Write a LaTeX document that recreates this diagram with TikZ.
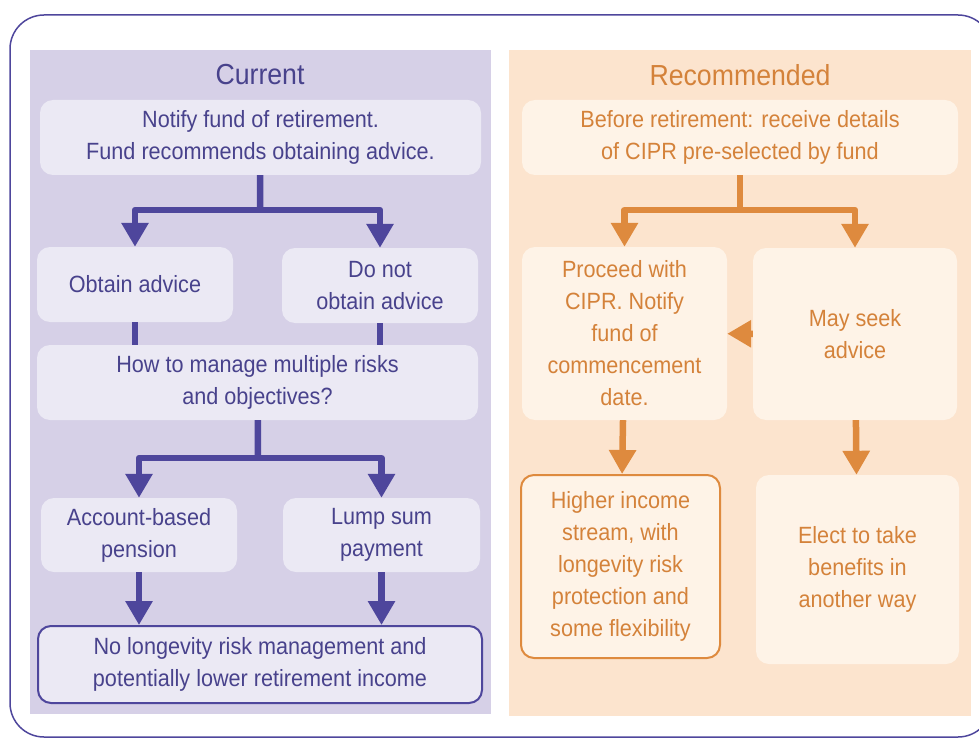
\documentclass[tikz,border=0pt]{standalone}
\usepackage{fontspec}
\setmainfont{Liberation Sans}[FakeStretch=0.92]
\usetikzlibrary{arrows.meta,positioning}
\definecolor{purpline}{RGB}{78,70,156}
\definecolor{purptext}{RGB}{72,66,140}
\definecolor{purppanel}{RGB}{214,208,231}
\definecolor{purpbox}{RGB}{235,233,244}
\definecolor{orgline}{RGB}{222,138,62}
\definecolor{orgtext}{RGB}{212,130,58}
\definecolor{orgpanel}{RGB}{252,228,206}
\definecolor{orgbox}{RGB}{254,243,231}
\begin{document}
\begin{tikzpicture}[x=1pt,y=-1pt,line join=round,>={Triangle[width=26pt,length=24pt]}]
\tikzset{box/.style={rectangle,rounded corners=13pt,align=center,inner sep=0pt,
    font=\fontsize{23.5}{32}\selectfont},
  pbox/.style={box,fill=purpbox,text=purptext},
  obox/.style={box,fill=orgbox,text=orgtext},
  title/.style={font=\fontsize{29}{30}\selectfont},
  pline/.style={draw=purpline,line width=6.5pt},
  oline/.style={draw=orgline,line width=6.5pt}}
\useasboundingbox (0,0) rectangle (979,738);
% frame and panels
\draw[purpline,line width=1.5pt,rounded corners=34pt] (10,15) rectangle (992,737);
\fill[purppanel] (30,50) rectangle (491,714);
\fill[orgpanel] (509,50) rectangle (971,716);

% current
\node[title,text=purptext] (cur) at (260,75) {Current};
\node[pbox,minimum width=441pt,minimum height=75pt] (ptop) at (260.5,137.5)
  {Notify fund of retirement.\\Fund recommends obtaining advice.};
\node[pbox,minimum width=196pt,minimum height=75pt] (obt) at (135,284.5) {Obtain advice};
\node[pbox,minimum width=196pt,minimum height=75pt] (dont) at (380,285.5) {Do not\\obtain advice};
\node[pbox,minimum width=441pt,minimum height=75pt] (how) at (257.5,382.5)
  {How to manage multiple risks\\and objectives?};
\node[pbox,minimum width=196pt,minimum height=74pt] (acct) at (139,535) {Account-based\\pension};
\node[pbox,minimum width=197pt,minimum height=74pt] (lump) at (381.5,535) {Lump sum\\payment};
\node[pbox,draw=purpline,line width=2pt,minimum width=444pt,minimum height=77pt] (nolong) at (260,664.5)
  {No longevity risk management and\\potentially lower retirement income};

\coordinate (fork1) at (260,210);
\coordinate (fork2) at (258,458);
\draw[pline] (ptop) -- (fork1);
\draw[pline,->] (fork1) -| (obt);
\draw[pline,->] (fork1) -| (dont);
\draw[pline] (obt) -- (obt |- how.north);
\draw[pline] (dont) -- (dont |- how.north);
\draw[pline] (how) -- (fork2);
\draw[pline,->] (fork2) -| (acct);
\draw[pline,->] (fork2) -| (lump);
\draw[pline,->] (acct) -- (acct |- nolong.north);
\draw[pline,->] (lump) -- (lump |- nolong.north);

% recommended
\node[title,text=orgtext] (rec) at (740,75) {Recommended};
\node[obox,minimum width=436pt,minimum height=75pt] (otop) at (740,137.5)
  {Before retirement: receive details\\of CIPR pre-selected by fund};
\node[obox,minimum width=205pt,minimum height=173pt] (proc) at (624.5,333.5)
  {Proceed with\\CIPR. Notify\\fund of\\commencement\\date.};
\node[obox,minimum width=204pt,minimum height=172pt] (seek) at (855,334) {May seek\\advice};
\node[obox,draw=orgline,line width=2pt,minimum width=199pt,minimum height=183pt] (high) at (620.5,566.5)
  {Higher income\\stream, with\\longevity risk\\protection and\\some flexibility};
\node[obox,minimum width=203pt,minimum height=189pt] (elect) at (857.5,569.5)
  {Elect to take\\benefits in\\another way};

\coordinate (fork3) at (740,210);
\draw[oline] (otop) -- (fork3);
\draw[oline,->] (fork3) -| (proc);
\draw[oline,->] (fork3) -| (seek);
\draw[oline,->] (seek) -- (proc);
\draw[oline,->] (proc) -- (high);
\draw[oline,->] (seek) -- (elect);
\end{tikzpicture}
\end{document}
